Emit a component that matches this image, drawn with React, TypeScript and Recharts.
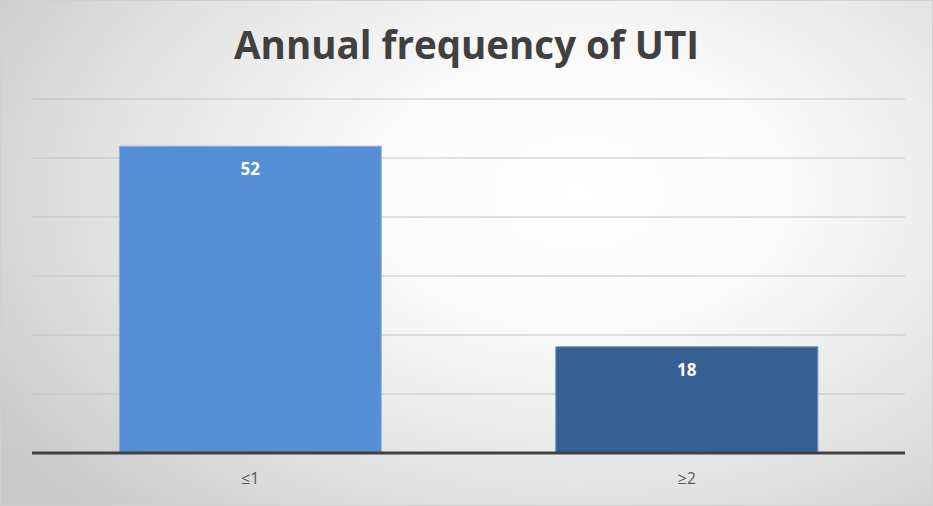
import { Bar, BarChart, CartesianGrid, Cell, LabelList, XAxis, YAxis } from "recharts";

const categories = ["≤1", "≥2"];
const counts = [52, 18];
const yTicks = [0, 10, 20, 30, 40, 50, 60];

const fills = ["#558ed5", "#376092"];
const strokes = ["#8db3e2", "#6f8fb8"];

const data = categories.map((name, i) => ({ name, count: counts[i] }));

export default function App() {
  return (
    <div
      style={{
        position: "absolute",
        left: 0,
        top: 0,
        width: 931,
        height: 504,
        border: "1px solid #d0d0d0",
        background:
          "radial-gradient(ellipse 75% 90% at 62% 38%, #ffffff 0%, #fafafa 30%, #e4e4e4 65%, #c9c9c9 100%)",
        fontFamily: "'Open Sans', sans-serif",
      }}
    >
      <div
        style={{
          position: "absolute",
          top: 17,
          left: 0,
          width: "100%",
          textAlign: "center",
          fontSize: 38.5,
          fontWeight: 700,
          color: "#404040",
        }}
      >
        Annual frequency of UTI
      </div>
      <BarChart
        width={931}
        height={504}
        data={data}
        margin={{ top: 98, right: 27, bottom: 0, left: 31 }}
        barCategoryGap="20%"
        style={{ position: "absolute", left: 0, top: 0 }}
      >
        <CartesianGrid vertical={false} stroke="#c4c4c4" strokeWidth={1} />
        <YAxis hide domain={[0, 60]} ticks={yTicks} />
        <XAxis
          dataKey="name"
          height={52}
          axisLine={{ stroke: "#404040", strokeWidth: 3 }}
          tickLine={false}
          tick={{ fontSize: 16, fill: "#595959" }}
          tickMargin={14}
        />
        <Bar dataKey="count" isAnimationActive={false}>
          {data.map((d, i) => (
            <Cell key={d.name} fill={fills[i]} stroke={strokes[i]} strokeWidth={1} />
          ))}
          <LabelList
            dataKey="count"
            position="insideTop"
            offset={17}
            fill="#ffffff"
            fontSize={17}
            fontWeight={700}
          />
        </Bar>
      </BarChart>
    </div>
  );
}
